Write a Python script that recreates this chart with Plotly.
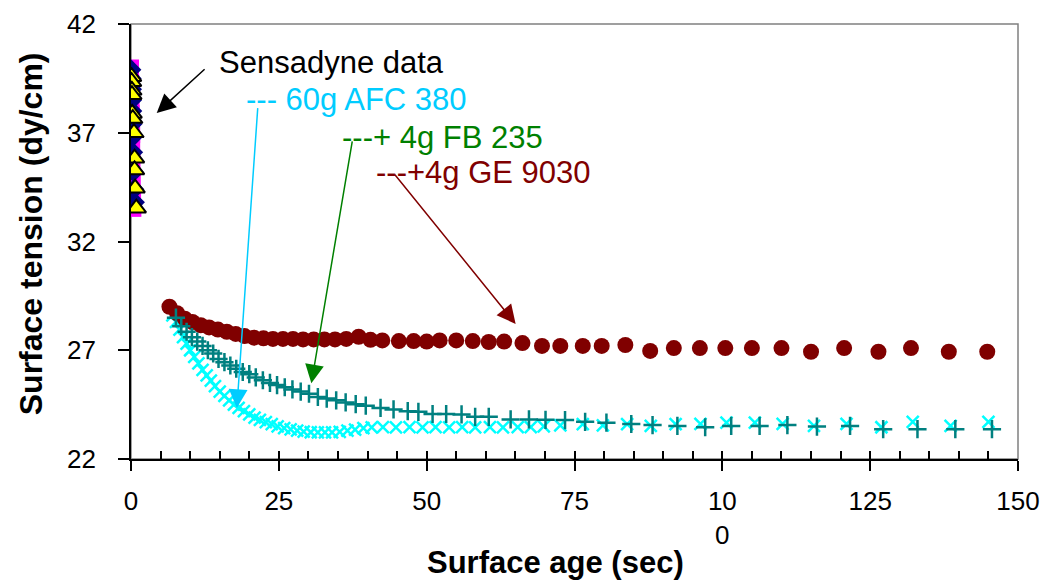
import plotly.graph_objects as go

# ---------------- data ----------------
# Sensadyne data (three runs near zero surface age)
sens_sq_x = [0.0, 0.0, 0.05, 0.05, 0.1, 0.1, 0.15, 0.2, 0.2, 0.25, 0.3, 0.35, 0.4]
sens_sq_y = [40.0, 39.7, 39.3, 38.9, 38.4, 37.9, 37.4, 36.9, 36.3, 35.6, 34.9, 34.2, 33.5]
sens_dia_x = [0.0, 0.05, 0.1, 0.1, 0.15, 0.2, 0.25, 0.3, 0.4, 0.5, 0.6]
sens_dia_y = [39.9, 39.5, 39.0, 38.5, 38.0, 37.4, 36.8, 36.1, 35.2, 34.4, 33.8]
sens_tri_x = [0.1, 0.1, 0.15, 0.15, 0.2, 0.3, 0.5, 0.6, 0.6, 0.7, 0.9]
sens_tri_y = [39.58, 39.35, 38.95, 38.75, 37.89, 37.65, 37.0, 35.83, 35.29, 34.45, 33.53]

# 60g AFC 380 (cyan x)
afc_x = [7.0, 7.6, 8.2, 8.8, 9.4, 10.0, 10.7, 11.4, 12.1, 12.8, 13.5, 14.2, 15.0, 15.8,
         16.6, 17.4, 18.2, 19.1, 20.0, 20.9, 21.8, 22.8, 23.8, 24.8, 25.9, 27.0, 28.1,
         29.2, 30.4, 31.6, 32.8, 34.0, 35.3, 36.6, 37.9, 39.3, 40.7,
         42.6, 44.8, 47.1, 49.3, 51.5, 53.8, 56.0, 58.2, 60.7, 62.9, 65.4, 67.6, 69.8,
         72.6, 76.4, 79.8, 83.9, 87.9, 92.1, 96.3, 100.7, 105.5, 110.2, 115.5, 121.0,
         126.9, 132.2, 138.6, 145.0]
afc_y = [28.6, 28.3, 27.95, 27.6, 27.3, 27.0, 26.7, 26.4, 26.1, 25.85, 25.6, 25.35, 25.1, 24.9,
         24.7, 24.5, 24.35, 24.2, 24.05, 23.9, 23.8, 23.7, 23.6, 23.5, 23.42, 23.36, 23.3,
         23.26, 23.23, 23.22, 23.22, 23.22, 23.25, 23.3, 23.35, 23.42, 23.45,
         23.47, 23.45, 23.47, 23.45, 23.47, 23.45, 23.47, 23.45, 23.47, 23.45, 23.47, 23.47, 23.5,
         23.55, 23.6, 23.55, 23.6, 23.52, 23.6, 23.61, 23.67, 23.67, 23.61, 23.52, 23.61,
         23.46, 23.71, 23.52, 23.71]

# +4g FB 235 (teal +)
fb_x = [7.6, 8.5, 9.4, 10.3, 11.2, 12.1, 13.0, 13.9, 14.8, 15.8, 16.8, 17.8, 18.9, 20.0,
        21.1, 22.3, 23.5, 24.7, 26.0, 27.3, 28.7, 30.1, 31.6, 33.1, 34.7, 36.3, 38.0, 39.7,
        42.2, 44.4, 46.8, 48.6, 51.0, 53.3, 55.9, 58.2, 60.5, 64.2, 67.3, 70.1, 73.4, 76.8,
        80.4, 84.6, 88.2, 92.4, 97.1, 101.5, 106.3, 111.0, 116.0, 121.6, 127.2, 133.0,
        139.4, 145.6]
fb_y = [28.5, 28.1, 27.85, 27.6, 27.4, 27.2, 27.0, 26.85, 26.6, 26.45, 26.3, 26.15, 26.0, 25.9,
        25.75, 25.62, 25.5, 25.4, 25.3, 25.2, 25.1, 25.0, 24.85, 24.78, 24.7, 24.6, 24.52, 24.45,
        24.35, 24.28, 24.2, 24.17, 24.07, 24.07, 24.05, 23.94, 23.94, 23.82, 23.82, 23.8, 23.79,
        23.71, 23.67, 23.61, 23.56, 23.52, 23.46, 23.52, 23.52, 23.56, 23.49, 23.52, 23.37,
        23.37, 23.37, 23.37]

# +4g GE 9030 (dark red circles)
ge_x = [6.5, 7.8, 9.1, 10.4, 11.8, 13.2, 14.7, 16.2, 17.7, 19.2, 20.8, 22.4, 24.0, 25.7,
        27.4, 29.1, 30.9, 32.7, 34.5, 36.4, 38.5, 40.5,
        42.5, 45.3, 47.8, 50.0, 52.2, 55.0, 57.8, 60.5, 63.1, 66.2, 69.5, 72.6, 76.4, 79.6,
        83.6, 87.8, 91.8, 96.2, 100.5, 105.0, 110.0, 115.0, 120.6, 126.4, 131.9, 138.3, 144.8]
ge_y = [29.0, 28.7, 28.45, 28.3, 28.15, 28.05, 27.95, 27.85, 27.75, 27.65, 27.58, 27.55, 27.52, 27.52,
        27.52, 27.5, 27.5, 27.5, 27.5, 27.52, 27.62, 27.48,
        27.45, 27.42, 27.42, 27.4, 27.45, 27.45, 27.42, 27.38, 27.4, 27.33, 27.2, 27.2, 27.2, 27.2,
        27.24, 26.97, 27.1, 27.1, 27.1, 27.1, 27.1, 26.93, 27.1, 26.93, 27.1, 26.93, 26.93]

x_tickvals = [0, 25, 50, 75, 100, 125, 150]
x_ticktext = ["0", "25", "50", "75", "10<br>0", "125", "150"]
y_tickvals = [22, 27, 32, 37, 42]
y_ticktext = ["22", "27", "32", "37", "42"]

FONT = "Arial, Liberation Sans, sans-serif"

fig = go.Figure()

fig.add_trace(go.Scatter(x=sens_sq_x, y=sens_sq_y, mode="markers",
                         marker=dict(symbol="square", size=16, color="#FF00FF")))
fig.add_trace(go.Scatter(x=sens_dia_x, y=sens_dia_y, mode="markers",
                         marker=dict(symbol="diamond", size=16, color="#000080")))
fig.add_trace(go.Scatter(x=sens_tri_x, y=sens_tri_y, mode="markers",
                         marker=dict(symbol="triangle-up", size=17, color="#FFFF00",
                                     line=dict(color="black", width=2))))
fig.add_trace(go.Scatter(x=afc_x, y=afc_y, mode="markers",
                         marker=dict(symbol="x-thin", size=12,
                                     line=dict(color="#00FFFF", width=2.5))))
fig.add_trace(go.Scatter(x=ge_x, y=ge_y, mode="markers",
                         marker=dict(symbol="circle", size=16, color="#800000")))
fig.add_trace(go.Scatter(x=fb_x, y=fb_y, mode="markers",
                         marker=dict(symbol="cross-thin", size=13,
                                     line=dict(color="#008080", width=2.5))))
# carrier trace for the overlay axis holding the inside ticks
fig.add_trace(go.Scatter(x=[None], y=[None], xaxis="x2", yaxis="y", mode="markers",
                         hoverinfo="skip"))

anns = []
def text_ann(x, y, txt, color):
    anns.append(dict(x=x, y=y, xref="x", yref="y", text=txt, showarrow=False,
                     xanchor="left", yanchor="middle",
                     font=dict(family=FONT, size=31, color=color)))

def arrow_ann(tx, ty, hx, hy, color):
    anns.append(dict(x=hx, y=hy, ax=tx, ay=ty, xref="x", yref="y", axref="x", ayref="y",
                     text="", showarrow=True, arrowhead=2, arrowsize=2.5, arrowwidth=1.5,
                     arrowcolor=color))

text_ann(14.55, 40.25, "Sensadyne data", "black")
text_ann(19.06, 38.51, "--- 60g AFC 380", "#00CCFF")
text_ann(35.3, 36.76, "---+ 4g FB 235", "#008000")
text_ann(41.1, 35.15, "---+4g GE 9030", "#800000")
arrow_ann(12.7, 39.98, 4.35, 37.91, "black")
arrow_ann(21.45, 38.2, 17.9, 24.34, "#00CCFF")
arrow_ann(37.46, 36.67, 30.5, 25.48, "#008000")
arrow_ann(44.43, 35.14, 65.05, 28.21, "#800000")

# y tick labels placed as text beside the axis
for v, t in zip(y_tickvals, y_ticktext):
    anns.append(dict(x=0, y=v, xref="paper", yref="y", text=t, showarrow=False,
                     xanchor="right", yanchor="middle", xshift=-33,
                     font=dict(family=FONT, size=26, color="black")))

# axis titles
anns.append(dict(x=-0.1126, y=0.517, xref="paper", yref="paper", text="<b>Surface tension (dy/cm)</b>",
                 textangle=-90, showarrow=False, xanchor="center", yanchor="middle",
                 font=dict(family=FONT, size=32, color="black")))
anns.append(dict(x=0.479, y=-0.237, xref="paper", yref="paper", text="<b>Surface age (sec)</b>",
                 showarrow=False, xanchor="center", yanchor="middle",
                 font=dict(family=FONT, size=31, color="black")))

fig.update_layout(
    width=1052, height=586,
    margin=dict(l=131, r=24, t=24, b=127),
    paper_bgcolor="white", plot_bgcolor="white",
    showlegend=False,
    font=dict(family=FONT, size=26, color="black"),
    annotations=anns,
    shapes=[dict(type="rect", xref="paper", yref="paper", x0=0, y0=0, x1=1, y1=1,
                 line=dict(color="#808080", width=1.5), layer="below")],
    xaxis=dict(range=[0, 150], tickvals=x_tickvals, ticktext=x_ticktext,
               ticks="outside", ticklen=10, tickwidth=1.5, tickcolor="black",
               showline=True, linecolor="black", linewidth=1.5,
               showgrid=False, zeroline=False, ticklabelstandoff=8,
               tickfont=dict(family=FONT, size=26, color="black")),
    xaxis2=dict(range=[0, 150], overlaying="x", anchor="y", side="bottom",
                tick0=0, dtick=5, ticks="inside", ticklen=8, tickwidth=1.5, tickcolor="black",
                showticklabels=False, showline=False, showgrid=False, zeroline=False),
    yaxis=dict(range=[22, 42], tickvals=y_tickvals, showticklabels=False,
               ticks="outside", ticklen=11, tickwidth=1.5, tickcolor="black",
               showline=True, linecolor="black", linewidth=1.5,
               showgrid=False, zeroline=False),
)

fig.write_html("out.html")
